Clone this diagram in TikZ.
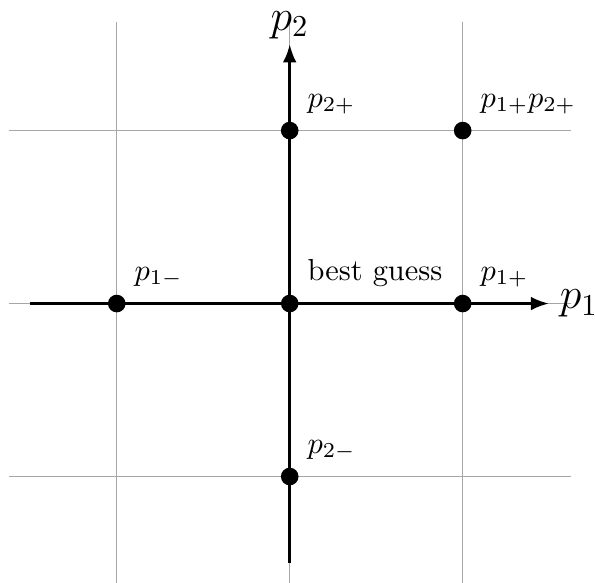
\documentclass[tikz,border=0pt]{standalone}
\usepackage{amsmath}
\usepackage{tikz}
\usetikzlibrary{positioning}
\usetikzlibrary{arrows.meta}

\begin{document}
\begin{tikzpicture}[
    dot/.style={circle,fill=black,inner sep=0pt,minimum size=5.8pt},
    lbl/.style={inner sep=1pt},
    node distance=2pt and 2.5pt]
\useasboundingbox (-3.35,-3.23) rectangle (3.53,3.51);
\draw[gray!70,line width=0.4pt] (-3.25,-3.25) grid[step=2] (3.25,3.25);

\coordinate (xl) at (-3,0);
\coordinate (xr) at (3,0);
\coordinate (yb) at (0,-3);
\coordinate (yt) at (0,3);
\draw[line width=1pt,-{Latex[length=6pt,width=4.5pt]}] (xl) -- (xr);
\draw[line width=1pt,-{Latex[length=6pt,width=4.5pt]}] (yb) -- (yt);
\node[anchor=west] (p1ax) at (xr) {\Large $p_1$};
\node[anchor=south,inner sep=1.5pt] (p2ax) at (yt) {\Large $p_2$};

\node[dot] (best) at (0,0) {};
\node[dot] (p1m) at (-2,0) {};
\node[dot] (p1p) at (2,0) {};
\node[dot] (p2p) at (0,2) {};
\node[dot] (p2m) at (0,-2) {};
\node[dot] (p12) at (2,2) {};

\node[lbl,above right=of best] {best guess};
\node[lbl,above right=of p1m] {$p_{1-}$};
\node[lbl,above right=of p1p] {$p_{1+}$};
\node[lbl,above right=of p2p] {$p_{2+}$};
\node[lbl,above right=of p2m] {$p_{2-}$};
\node[lbl,above right=of p12] {$p_{1+}p_{2+}$};
\end{tikzpicture}
\end{document}
